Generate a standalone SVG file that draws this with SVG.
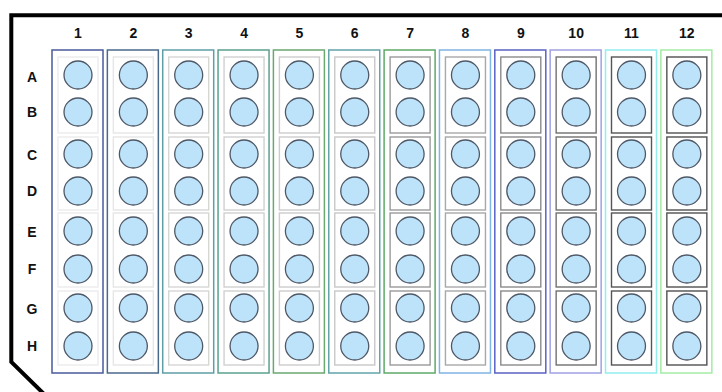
<svg xmlns="http://www.w3.org/2000/svg" width="722" height="392" viewBox="0 0 722 392">
<style>
.frame{fill:none;stroke:#000;stroke-width:4;stroke-linejoin:miter}
.hdr{font-family:"Liberation Sans",Arial,sans-serif;font-weight:bold;font-size:14px;fill:#111;text-anchor:middle}
.col{fill:#fff;stroke-width:1.5}
.pair{fill:#fff;stroke-width:1.4}
.well{fill:#bde3fa;stroke:#4f5866;stroke-width:1.3}
</style>
<defs>
<g id="colbody">
<rect class="pair" x="6" y="57" width="40" height="76"/>
<rect class="pair" x="6" y="137" width="40" height="73"/>
<rect class="pair" x="6" y="213" width="40" height="74"/>
<rect class="pair" x="6" y="291" width="40" height="74"/>
<circle class="well" cx="26" cy="75" r="14"/>
<circle class="well" cx="26" cy="112" r="14"/>
<circle class="well" cx="26" cy="154" r="14"/>
<circle class="well" cx="26" cy="191" r="14"/>
<circle class="well" cx="26" cy="231" r="14"/>
<circle class="well" cx="26" cy="269" r="14"/>
<circle class="well" cx="26" cy="308" r="14"/>
<circle class="well" cx="26" cy="346" r="14"/>
</g>
</defs>
<rect width="722" height="392" fill="#fff"/>
<path class="frame" d="M722,15.3 H11.3 V362 L44,394"/>
<g id="row-labels" class="hdr">
<text x="32" y="82">A</text>
<text x="32" y="117">B</text>
<text x="32" y="159.5">C</text>
<text x="32" y="196">D</text>
<text x="32" y="236.5">E</text>
<text x="32" y="274">F</text>
<text x="32" y="313.5">G</text>
<text x="32" y="351">H</text>
</g>
<g id="col1" transform="translate(52,0)"><rect class="col" x="0" y="50" width="51" height="323" stroke="#4a5a9c"/><g stroke="#ececec"><use href="#colbody"/></g><text class="hdr" x="26" y="38">1</text></g>
<g id="col2" transform="translate(107.35,0)"><rect class="col" x="0" y="50" width="51" height="323" stroke="#4a6a8c"/><g stroke="#e6e6e6"><use href="#colbody"/></g><text class="hdr" x="26" y="38">2</text></g>
<g id="col3" transform="translate(162.7,0)"><rect class="col" x="0" y="50" width="51" height="323" stroke="#5e9ea6"/><g stroke="#d6d6d6"><use href="#colbody"/></g><text class="hdr" x="26" y="38">3</text></g>
<g id="col4" transform="translate(218.05,0)"><rect class="col" x="0" y="50" width="51" height="323" stroke="#5aa08e"/><g stroke="#d0d0d0"><use href="#colbody"/></g><text class="hdr" x="26" y="38">4</text></g>
<g id="col5" transform="translate(273.4,0)"><rect class="col" x="0" y="50" width="51" height="323" stroke="#6aa870"/><g stroke="#cccccc"><use href="#colbody"/></g><text class="hdr" x="26" y="38">5</text></g>
<g id="col6" transform="translate(328.75,0)"><rect class="col" x="0" y="50" width="51" height="323" stroke="#62a4a8"/><g stroke="#c8c8c8"><use href="#colbody"/></g><text class="hdr" x="26" y="38">6</text></g>
<g id="col7" transform="translate(384.1,0)"><rect class="col" x="0" y="50" width="51" height="323" stroke="#5ea868"/><g stroke="#9a9a9a"><use href="#colbody"/></g><text class="hdr" x="26" y="38">7</text></g>
<g id="col8" transform="translate(439.45,0)"><rect class="col" x="0" y="50" width="51" height="323" stroke="#80b4e2"/><g stroke="#a8a8a8"><use href="#colbody"/></g><text class="hdr" x="26" y="38">8</text></g>
<g id="col9" transform="translate(494.8,0)"><rect class="col" x="0" y="50" width="51" height="323" stroke="#5a62c4"/><g stroke="#8a8a8a"><use href="#colbody"/></g><text class="hdr" x="26" y="38">9</text></g>
<g id="col10" transform="translate(550.15,0)"><rect class="col" x="0" y="50" width="51" height="323" stroke="#a0a0e4"/><g stroke="#707070"><use href="#colbody"/></g><text class="hdr" x="26" y="38">10</text></g>
<g id="col11" transform="translate(605.5,0)"><rect class="col" x="0" y="50" width="51" height="323" stroke="#92eeee"/><g stroke="#555555"><use href="#colbody"/></g><text class="hdr" x="26" y="38">11</text></g>
<g id="col12" transform="translate(660.85,0)"><rect class="col" x="0" y="50" width="51" height="323" stroke="#a4eca4"/><g stroke="#505050"><use href="#colbody"/></g><text class="hdr" x="26" y="38">12</text></g>
</svg>
